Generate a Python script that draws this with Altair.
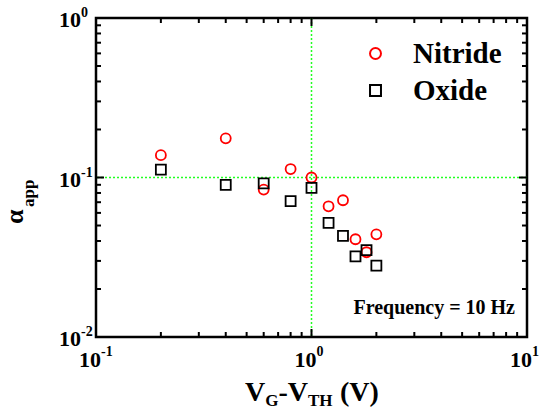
import altair as alt
import pandas as pd

# ---- data ----
vg_nitride = [0.2, 0.4, 0.6, 0.8, 1.0, 1.2, 1.4, 1.6, 1.8, 2.0]
alpha_nitride = [0.138, 0.176, 0.084, 0.113, 0.100, 0.066, 0.072, 0.041, 0.034, 0.044]
vg_oxide = [0.2, 0.4, 0.6, 0.8, 1.0, 1.2, 1.4, 1.6, 1.8, 2.0]
alpha_oxide = [0.112, 0.090, 0.092, 0.071, 0.086, 0.052, 0.043, 0.032, 0.035, 0.028]
series = ["Nitride", "Oxide"]
series_colors = ["#ff0000", "#000000"]
series_shapes = ["circle", "square"]

x_major = [0.1, 1, 10]
x_major_exp = ["-1", "0", "1"]
x_minor = [0.2, 0.3, 0.4, 0.5, 0.6, 0.7, 0.8, 0.9, 2, 3, 4, 5, 6, 7, 8, 9]
y_major = [0.01, 0.1, 1]
y_major_exp = ["-2", "-1", "0"]
y_minor = [0.02, 0.03, 0.04, 0.05, 0.06, 0.07, 0.08, 0.09,
           0.2, 0.3, 0.4, 0.5, 0.6, 0.7, 0.8, 0.9]
grid_x = [1]
grid_y = [0.1]
annotation = ["Frequency = 10 Hz"]

FONT = "Liberation Serif"
W, H = 431, 319

df = pd.DataFrame({
    "vg": vg_nitride + vg_oxide,
    "alpha": alpha_nitride + alpha_oxide,
    "series": ["Nitride"] * len(vg_nitride) + ["Oxide"] * len(vg_oxide),
})

xscale = alt.Scale(type="log", domain=[0.1, 10], nice=False)
yscale = alt.Scale(type="log", domain=[0.01, 1], nice=False)

legend = alt.Legend(
    title=None, orient="none", legendX=265, legendY=21, padding=0,
    labelFont=FONT, labelFontSize=29, labelFontWeight="bold", labelColor="black",
    symbolSize=120, symbolStrokeWidth=2, rowPadding=7, labelOffset=23,
)

points = alt.Chart(df).mark_point(filled=False, strokeWidth=1.8, size=100, opacity=1).encode(
    x=alt.X("vg:Q", scale=xscale, axis=None),
    y=alt.Y("alpha:Q", scale=yscale, axis=None),
    color=alt.Color("series:N", scale=alt.Scale(domain=series, range=series_colors), legend=legend),
    shape=alt.Shape("series:N", scale=alt.Scale(domain=series, range=series_shapes), legend=legend),
)

GREEN = "#22ff22"
gx = alt.Chart(pd.DataFrame({"v": grid_x})).mark_rule(
    stroke=GREEN, strokeDash=[2, 2], strokeWidth=1.5, strokeOpacity=1
).encode(x=alt.X("v:Q", scale=xscale, axis=None))
gy = alt.Chart(pd.DataFrame({"v": grid_y})).mark_rule(
    stroke=GREEN, strokeDash=[2, 2], strokeWidth=1.5, strokeOpacity=1
).encode(y=alt.Y("v:Q", scale=yscale, axis=None))


def xticks(vals, length, side):
    y0 = H if side == "bottom" else 0
    y1 = H - length if side == "bottom" else length
    return alt.Chart(pd.DataFrame({"v": vals})).mark_rule(stroke="#000000", strokeWidth=2).encode(
        x=alt.X("v:Q", scale=xscale, axis=None), y=alt.value(y0), y2=alt.value(y1))


def yticks(vals, length, side):
    x0 = 0 if side == "left" else W
    x1 = length if side == "left" else W - length
    return alt.Chart(pd.DataFrame({"v": vals})).mark_rule(stroke="#000000", strokeWidth=2).encode(
        y=alt.Y("v:Q", scale=yscale, axis=None), x=alt.value(x0), x2=alt.value(x1))


ticks = [
    xticks(x_major, 8, "bottom"), xticks(x_minor, 5, "bottom"),
    xticks(x_major, 8, "top"), xticks(x_minor, 5, "top"),
    yticks(y_major, 8, "left"), yticks(y_minor, 5, "left"),
    yticks(y_major, 8, "right"), yticks(y_minor, 5, "right"),
]

xlab_df = pd.DataFrame({"v": x_major, "e": x_major_exp})
xlab_base = alt.Chart(xlab_df).mark_text(
    font=FONT, fontSize=22, fontWeight="bold", align="right", baseline="middle", dx=5, color="black"
).encode(x=alt.X("v:Q", scale=xscale, axis=None), y=alt.value(H + 23), text=alt.value("10"))
xlab_exp = alt.Chart(xlab_df).mark_text(
    font=FONT, fontSize=14, fontWeight="bold", align="left", baseline="middle", dx=5, color="black"
).encode(x=alt.X("v:Q", scale=xscale, axis=None), y=alt.value(H + 15), text="e:N")

ylab_df = pd.DataFrame({"v": y_major, "e": y_major_exp})
ylab_base = alt.Chart(ylab_df).mark_text(
    font=FONT, fontSize=22, fontWeight="bold", align="right", baseline="middle", dy=2, color="black"
).encode(y=alt.Y("v:Q", scale=yscale, axis=None), x=alt.value(-15), text=alt.value("10"))
ylab_exp = alt.Chart(ylab_df).mark_text(
    font=FONT, fontSize=14, fontWeight="bold", align="left", baseline="middle", dy=-5, color="black"
).encode(y=alt.Y("v:Q", scale=yscale, axis=None), x=alt.value(-15), text="e:N")


def label(txt, x, y, size, angle=0):
    return alt.Chart(pd.DataFrame({"t": [txt]})).mark_text(
        font=FONT, fontSize=size, fontWeight="bold", align="left", baseline="alphabetic",
        angle=angle, color="black"
    ).encode(x=alt.value(x), y=alt.value(y), text="t:N")


xtitle = [
    label("V", 149, 383, 28),
    label("G", 169.2, 388, 17),
    label("-V", 182.4, 383, 28),
    label("TH", 211.9, 388, 17),
    label("(V)", 244, 383, 28),
]
ytitle = [
    label("α", -73, 206, 26, angle=270),
    label("app", -62, 189, 17, angle=270),
]

freq = alt.Chart(pd.DataFrame({"t": annotation})).mark_text(
    font=FONT, fontSize=20, fontWeight="bold", align="right", baseline="alphabetic", color="black"
).encode(x=alt.value(419), y=alt.value(296), text="t:N")

chart = alt.layer(
    gx, gy, points, *ticks, xlab_base, xlab_exp, ylab_base, ylab_exp, *xtitle, *ytitle, freq
).properties(
    width=W, height=H,
    autosize=alt.AutoSizeParams(type="none"),
    padding={"left": 96, "top": 18, "right": 26, "bottom": 83},
    background="white",
).configure_view(stroke="black", strokeWidth=2.5)

chart.save("out.html", embed_options={"renderer": "svg", "actions": False})
